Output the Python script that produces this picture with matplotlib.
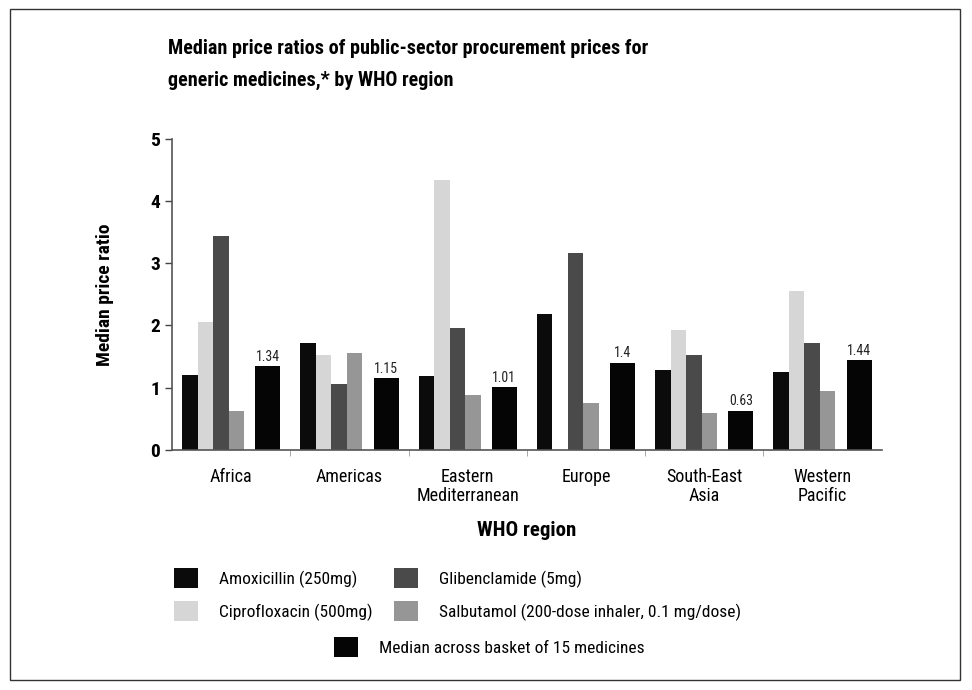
import numpy as np
import matplotlib
matplotlib.use("Agg")
import matplotlib.pyplot as plt
from matplotlib import font_manager
from matplotlib.patches import Rectangle

# pick a narrow font if there is one
names = set(f.name for f in font_manager.fontManager.ttflist)
narrow = None
for cand in ['Liberation Sans Narrow', 'DejaVu Sans Condensed', 'Roboto Condensed', 'Open Sans Condensed']:
    if cand in names:
        narrow = cand
        break
fam = [narrow, 'DejaVu Sans'] if narrow else ['DejaVu Sans']
plt.rcParams['font.family'] = fam

regions = ['Africa', 'Americas', 'Eastern\nMediterranean', 'Europe', 'South-East\nAsia', 'Western\nPacific']
amoxicillin = [1.21, 1.71, 1.18, 2.18, 1.29, 1.25]
ciprofloxacin = [2.06, 1.53, 4.34, np.nan, 1.92, 2.56]
glibenclamide = [3.44, 1.06, 1.96, 3.16, 1.53, 1.71]
salbutamol = [0.62, 1.56, 0.88, 0.76, 0.59, 0.95]
median_basket = [1.34, 1.15, 1.01, 1.4, 0.63, 1.44]
median_labels = ['1.34', '1.15', '1.01', '1.4', '0.63', '1.44']

series = [('Amoxicillin (250mg)', amoxicillin, '#0b0b0b'),
          ('Ciprofloxacin (500mg)', ciprofloxacin, '#d6d6d6'),
          ('Glibenclamide (5mg)', glibenclamide, '#4a4a4a'),
          ('Salbutamol (200-dose inhaler, 0.1 mg/dose)', salbutamol, '#969696')]

fig = plt.figure(figsize=(9.72, 6.9), dpi=100)
ax = fig.add_axes([0.177, 0.348, 0.73, 0.451])

x = np.arange(len(regions))
w = 0.131
start = -0.415
handles = []
for i, (name, vals, col) in enumerate(series):
    b = ax.bar(x + start + w * (i + 0.5), vals, w, color=col, edgecolor='none', label=name)
    handles.append(b)
mw = 0.21
mb = ax.bar(x + 0.415 - mw / 2, median_basket, mw, color='#050505', edgecolor='none',
            label='Median across basket of 15 medicines')
for xi, v, lab in zip(x + 0.415 - mw / 2, median_basket, median_labels):
    ax.text(xi, v + 0.04, lab, ha='center', va='bottom', fontsize=10, color='#222222')

ax.set_xlim(-0.5, len(regions) - 0.5)
ax.set_ylim(0, 5)
ax.set_yticks(range(6))
ax.set_yticklabels([str(i) for i in range(6)], fontsize=14, fontweight='bold')
ax.set_xticks(x)
ax.set_xticklabels(regions, fontsize=13, linespacing=1.1)
ax.tick_params(axis='x', length=0, pad=13)
ax.set_xticks(np.arange(0.5, len(regions) - 0.5, 1), minor=True)
ax.tick_params(axis='x', which='minor', length=4, color='#999999')
ax.tick_params(axis='y', length=5, width=1, color='#444444')
for s in ['top', 'right']:
    ax.spines[s].set_visible(False)
for s in ['left', 'bottom']:
    ax.spines[s].set_color('#555555')
    ax.spines[s].set_linewidth(1.2)
ax.set_ylabel('Median price ratio', fontsize=14, fontweight='bold', labelpad=26)
ax.set_xlabel('WHO region', fontsize=15, fontweight='bold', labelpad=11)

fig.text(0.173, 0.93, 'Median price ratios of public-sector procurement prices for',
         fontsize=14.5, fontweight='bold', va='center')
fig.text(0.173, 0.883, 'generic medicines,* by WHO region',
         fontsize=14.5, fontweight='bold', va='center')

fig.legend(handles=handles, labels=[s[0] for s in series],
           ncol=2, loc='upper left', bbox_to_anchor=(0.172, 0.187),
           frameon=False, fontsize=12.5, handlelength=1.4, handleheight=1.4,
           columnspacing=1.2, labelspacing=0.75, handletextpad=1.2, borderaxespad=0)
fig.legend(handles=[mb], labels=['Median across basket of 15 medicines'], loc='center left',
           bbox_to_anchor=(0.336, 0.062), frameon=False, fontsize=12.5,
           handlelength=1.4, handleheight=1.4, handletextpad=1.2, borderaxespad=0)

fig.patches.append(Rectangle((0.01, 0.015), 0.978, 0.972, transform=fig.transFigure,
                             fill=False, edgecolor='#333333', linewidth=1))

fig.savefig('out.png', dpi=100)
